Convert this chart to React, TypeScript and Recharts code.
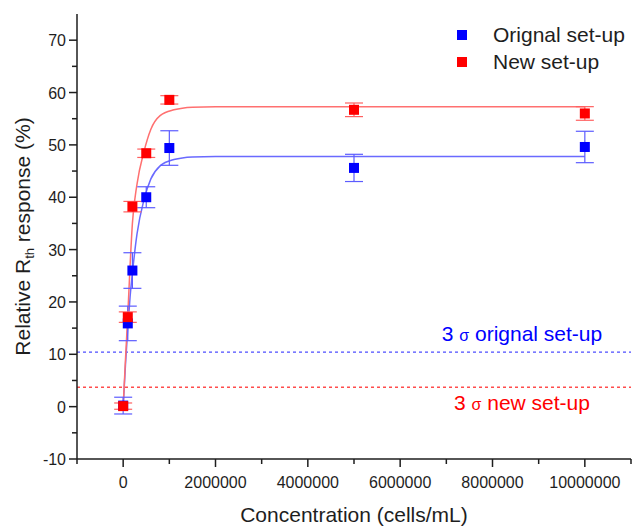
import React from "react"
import {
  ComposedChart,
  Line,
  Scatter,
  ErrorBar,
  XAxis,
  YAxis,
  ReferenceLine,
} from "recharts"

// measured points (cells/mL vs relative Rth response %)
const concentrations = [0, 100000, 200000, 500000, 1000000, 5000000, 10000000]
const originalResponse = [0.2, 15.9, 26.0, 40.0, 49.4, 45.6, 49.6]
const originalError = [1.6, 3.3, 3.4, 2.0, 3.3, 2.6, 3.0]
const newResponse = [0.1, 17.1, 38.2, 48.4, 58.6, 56.7, 56.0]
const newError = [0.6, 1.0, 1.0, 0.8, 0.8, 1.3, 1.3]

// fitted curves
const fitConcentrations = [0, 50000, 100000, 150000, 200000, 300000, 450000, 600000, 800000, 1100000, 1500000, 2000000, 10000000]
const originalFit = [0, 8, 15, 21, 25.5, 33, 39.5, 43.5, 46, 47.2, 47.7, 47.8, 47.8]
const newFit = [0, 9, 17.5, 27, 35, 42.5, 48.7, 53, 55.6, 56.7, 57.2, 57.3, 57.3]

// 3 sigma detection limits
const originalSigma = 10.4
const newSigma = 3.7

const xTicks = [-1000000, 0, 1000000, 2000000, 3000000, 4000000, 5000000, 6000000, 7000000, 8000000, 9000000, 10000000, 11000000]
const yTicks = [-10, -5, 0, 5, 10, 15, 20, 25, 30, 35, 40, 45, 50, 55, 60, 65, 70]

const FONT = "'Liberation Sans', Arial, sans-serif"
const INK = "#1e1e1e"
const BLUE = "#0000ff"
const RED = "#ff0000"

const series = [
  { name: "Orignal set-up", color: BLUE },
  { name: "New set-up", color: RED },
]

const toPoints = (ys: number[], errs: number[]) =>
  concentrations.map((x, i) => ({ x, y: ys[i], err: errs[i] }))
const toFit = (ys: number[]) => fitConcentrations.map((x, i) => ({ x, y: ys[i] }))

const originalPoints = toPoints(originalResponse, originalError)
const newPoints = toPoints(newResponse, newError)

const square = (color: string) => (props: any) => (
  <rect x={props.cx - 5} y={props.cy - 5} width={10} height={10} fill={color} />
)

const XTick = ({ x, y, payload }: any) => {
  const major = payload.value % 2000000 === 0
  return (
    <g>
      <line x1={x} y1={y} x2={x} y2={y + (major ? 8 : 5)} stroke={INK} strokeWidth={1.5} />
      {major && (
        <text x={x} y={y + 29} textAnchor="middle" fontSize={16} fill={INK} fontFamily={FONT}>
          {payload.value}
        </text>
      )}
    </g>
  )
}

const YTick = ({ x, y, payload }: any) => {
  const major = payload.value % 10 === 0
  return (
    <g>
      <line x1={x} y1={y} x2={x - (major ? 8 : 5)} y2={y} stroke={INK} strokeWidth={1.5} />
      {major && (
        <text x={x - 11} y={y + 6} textAnchor="end" fontSize={16} fill={INK} fontFamily={FONT}>
          {payload.value}
        </text>
      )}
    </g>
  )
}

const sigmaLabel = (text: string, color: string, dy: number) => (props: any) => {
  const vb = props.viewBox
  return (
    <text x={vb.x + vb.width - 109} y={vb.y + dy} textAnchor="middle" fontSize={21} fill={color} fontFamily={FONT}>
      3 <tspan fontSize={16}>σ</tspan> {text}
    </text>
  )
}

export default function App() {
  return (
    <div style={{ position: "fixed", left: 0, top: 0, width: 632, height: 526, background: "#fff" }}>
      <ComposedChart width={632} height={526} margin={{ top: 14, right: 1, bottom: 0, left: 0 }}>
        <XAxis
          type="number"
          dataKey="x"
          domain={[-1000000, 11000000]}
          ticks={xTicks}
          interval={0}
          allowDataOverflow
          height={67}
          stroke={INK}
          strokeWidth={1.5}
          tickLine={false}
          tickSize={0}
          tickMargin={0}
          tick={<XTick />}
          label={{
            content: (p: any) => (
              <text x={p.viewBox.x + p.viewBox.width / 2} y={p.viewBox.y + 63} textAnchor="middle" fontSize={21} fill={INK} fontFamily={FONT}>
                Concentration (cells/mL)
              </text>
            ),
          }}
        />
        <XAxis xAxisId="top" orientation="top" type="number" domain={[-1000000, 11000000]} height={0} tick={false} tickLine={false} stroke={INK} strokeWidth={1.5} />
        <YAxis
          type="number"
          domain={[-10, 75]}
          ticks={yTicks}
          interval={0}
          allowDataOverflow
          width={77}
          stroke={INK}
          strokeWidth={1.5}
          tickLine={false}
          tickSize={0}
          tickMargin={0}
          tick={<YTick />}
          label={{
            content: (p: any) => {
              const cy = p.viewBox.y + p.viewBox.height / 2
              return (
                <text x={30} y={cy} transform={`rotate(-90, 30, ${cy})`} textAnchor="middle" fontSize={21} fill={INK} fontFamily={FONT}>
                  Relative R<tspan fontSize={13} dy={4}>th</tspan>
                  <tspan dy={-4}> response (%)</tspan>
                </text>
              )
            },
          }}
        />
        <YAxis yAxisId="right" orientation="right" domain={[-10, 75]} width={0} tick={false} tickLine={false} stroke="#777" strokeWidth={1.5} />

        <ReferenceLine y={originalSigma} stroke="#4d4dff" strokeDasharray="3 3" strokeWidth={1.2} label={sigmaLabel("orignal set-up", BLUE, -11)} />
        <ReferenceLine y={newSigma} stroke="#ff4d4d" strokeOpacity={1} strokeDasharray="3 3" strokeWidth={1.4} label={sigmaLabel("new set-up", RED, 23)} />

        <Line data={toFit(originalFit)} dataKey="y" type="monotone" stroke="#6a6aff" strokeWidth={1.5} dot={false} isAnimationActive={false} />
        <Line data={toFit(newFit)} dataKey="y" type="monotone" stroke="#ff7070" strokeWidth={1.5} dot={false} isAnimationActive={false} />

        <Scatter data={originalPoints} dataKey="y" shape={square(BLUE)} isAnimationActive={false}>
          <ErrorBar dataKey="err" direction="y" width={9} stroke="#5c5cff" strokeWidth={1.2} />
        </Scatter>
        <Scatter data={newPoints} dataKey="y" shape={square(RED)} isAnimationActive={false}>
          <ErrorBar dataKey="err" direction="y" width={9} stroke="#ff6060" strokeWidth={1.2} />
        </Scatter>
      </ComposedChart>

      {series.map((s, i) => (
        <div
          key={s.name}
          style={{ position: "absolute", left: 457, top: 23 + i * 27, height: 24, display: "flex", alignItems: "center", fontFamily: FONT, fontSize: 21, color: INK }}
        >
          <div style={{ width: 10, height: 10, background: s.color }} />
          <span style={{ marginLeft: 26 }}>{s.name}</span>
        </div>
      ))}
    </div>
  )
}
